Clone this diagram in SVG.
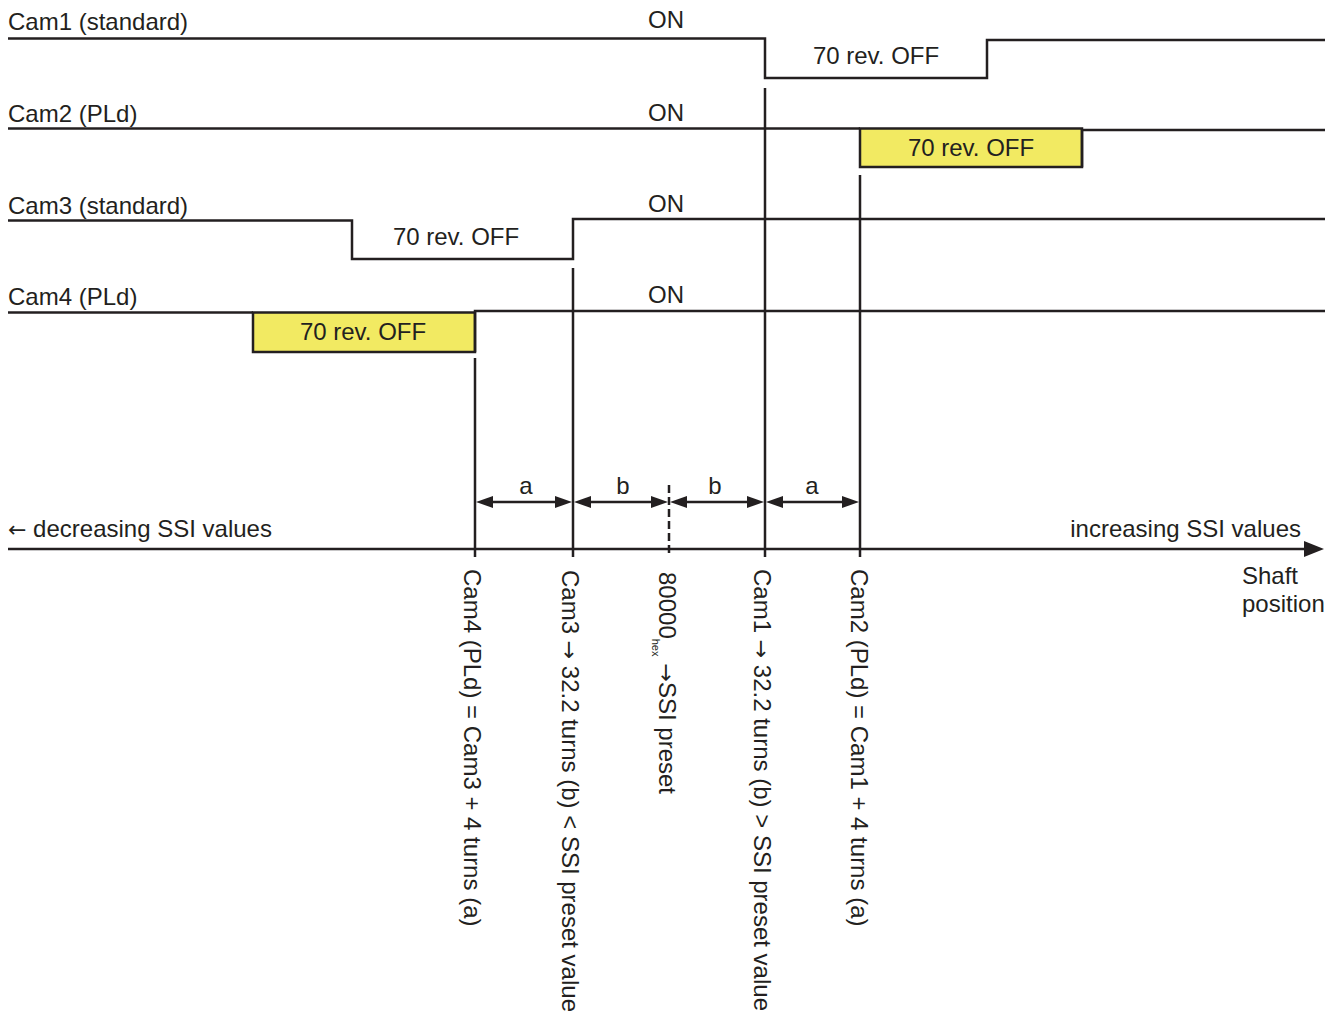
<svg xmlns="http://www.w3.org/2000/svg" width="1337" height="1013" viewBox="0 0 1337 1013">
<style>
text{font-family:"Liberation Sans",Arial,sans-serif;font-size:24px;fill:#231f20}
.ar{font-family:"DejaVu Sans",sans-serif;font-size:22px}
.ln{fill:none;stroke:#231f20;stroke-width:2.5;stroke-linejoin:miter}
.box{fill:#f2ea62;stroke:#231f20;stroke-width:2.5}
.dash{stroke:#231f20;stroke-width:2.5;stroke-dasharray:8 4}
.ah{fill:#231f20}
.c{text-anchor:middle}
</style>
<rect width="1337" height="1013" fill="#fff"/>
<g id="cam1">
<text x="8" y="30">Cam1 (standard)</text>
<text x="666" y="28" class="c">ON</text>
<path class="ln" d="M8 38.5H765V78H987V40H1325"/>
<text x="876" y="64" class="c">70 rev. OFF</text>
</g>
<g id="cam2">
<text x="8" y="122">Cam2 (PLd)</text>
<text x="666" y="121" class="c">ON</text>
<path class="ln" d="M8 128.5H860"/>
<path class="box" d="M860 128.5H1082V167H860Z"/>
<path class="ln" d="M1082 167V130H1325"/>
<text x="971" y="156" class="c">70 rev. OFF</text>
</g>
<g id="cam3">
<text x="8" y="214">Cam3 (standard)</text>
<text x="666" y="212" class="c">ON</text>
<path class="ln" d="M8 220.5H352V259H573V219H1325"/>
<text x="456" y="245" class="c">70 rev. OFF</text>
</g>
<g id="cam4">
<text x="8" y="305">Cam4 (PLd)</text>
<text x="666" y="303" class="c">ON</text>
<path class="ln" d="M8 312.5H253"/>
<path class="box" d="M253 312.5H475V352H253Z"/>
<path class="ln" d="M475 352V311H1325"/>
<text x="363" y="340" class="c">70 rev. OFF</text>
</g>
<g id="axis">
<path class="ln" d="M8 549H1306"/>
<polygon class="ah" points="1324,549 1304,541 1304,557"/>
<text x="8" y="537"><tspan class="ar">←</tspan> decreasing SSI values</text>
<text x="1301" y="537" text-anchor="end">increasing SSI values</text>
<text x="1242" y="584">Shaft</text>
<text x="1242" y="612">position</text>
</g>
<g id="connectors">
<path class="ln" d="M475 358V557M573 268V557M765 88V557M860 175V557"/>
<line class="dash" x1="669" y1="485" x2="669" y2="557"/>
<path class="ln" d="M490 502H558M588 502H654M684 502H750M780 502H845"/>
<polygon class="ah" points="476,502 493,496 493,508"/>
<polygon class="ah" points="572,502 555,496 555,508"/>
<polygon class="ah" points="574,502 591,496 591,508"/>
<polygon class="ah" points="668,502 651,496 651,508"/>
<polygon class="ah" points="670,502 687,496 687,508"/>
<polygon class="ah" points="764,502 747,496 747,508"/>
<polygon class="ah" points="766,502 783,496 783,508"/>
<polygon class="ah" points="859,502 842,496 842,508"/>
<text x="526" y="494" class="c">a</text>
<text x="623" y="494" class="c">b</text>
<text x="715" y="494" class="c">b</text>
<text x="812" y="494" class="c">a</text>
</g>
<g id="markers">
<text transform="translate(464,569) rotate(90)">Cam4 (PLd) = Cam3 + 4 turns (a)</text>
<text transform="translate(562,570) rotate(90)">Cam3 <tspan class="ar">→</tspan> 32.2 turns (b) &lt; SSI preset value</text>
<text transform="translate(659,572) rotate(90)">80000<tspan font-size="11" dy="7">hex</tspan><tspan dy="-7" class="ar"> →</tspan>SSI preset</text>
<text transform="translate(754,569) rotate(90)">Cam1 <tspan class="ar">→</tspan> 32.2 turns (b) &gt; SSI preset value</text>
<text transform="translate(851,569) rotate(90)">Cam2 (PLd) = Cam1 + 4 turns (a)</text>
</g>
</svg>
